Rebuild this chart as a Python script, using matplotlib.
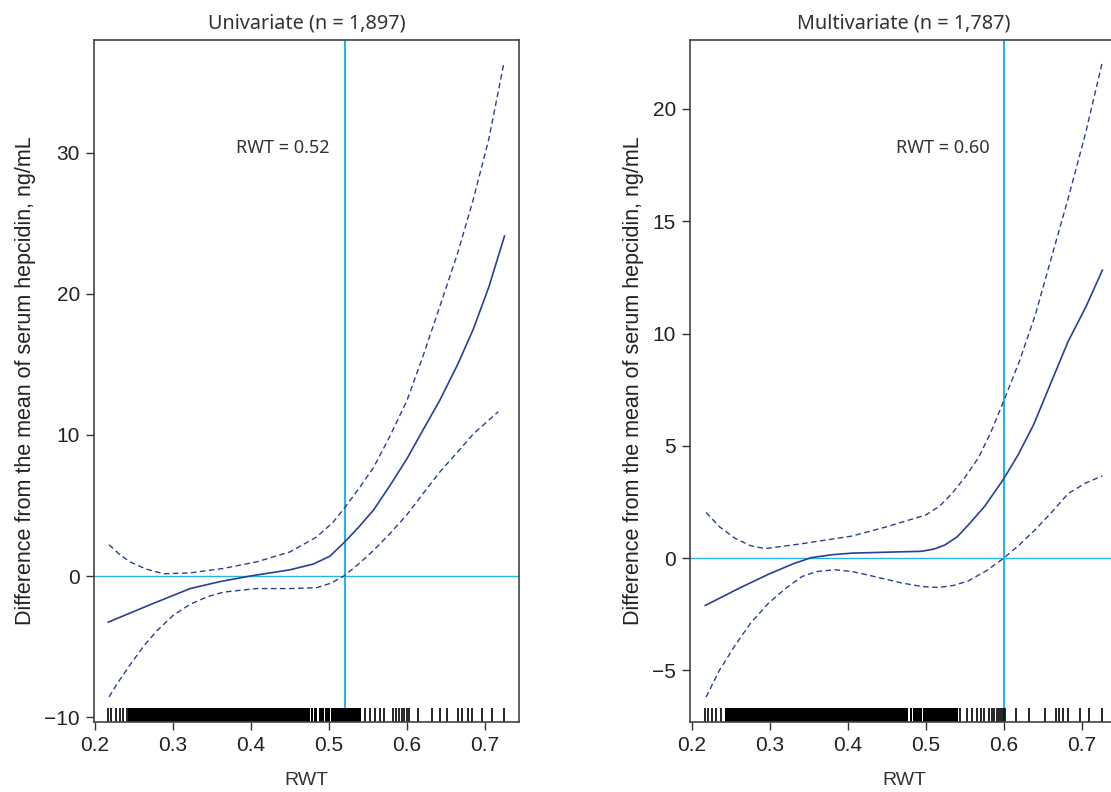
import numpy as np
import matplotlib
matplotlib.use("Agg")
import matplotlib.pyplot as plt

plt.rcParams['font.family'] = ['Liberation Sans', 'DejaVu Sans']

# univariate spline
uni_x = [0.217, 0.27, 0.322, 0.36, 0.399, 0.45, 0.48, 0.501, 0.519, 0.537, 0.557,
         0.578, 0.6, 0.62, 0.642, 0.665, 0.685, 0.705, 0.725]
uni_fit = [-3.27, -2.05, -0.89, -0.4, 0.0, 0.44, 0.85, 1.40, 2.35, 3.4, 4.67,
           6.4, 8.32, 10.3, 12.45, 15.0, 17.5, 20.5, 24.1]
uni_up_x = [0.218, 0.232, 0.245, 0.265, 0.288, 0.322, 0.365, 0.407, 0.45, 0.484, 0.505,
            0.519, 0.537, 0.557, 0.578, 0.6, 0.62, 0.642, 0.665, 0.685, 0.705, 0.724]
uni_up = [2.22, 1.5, 1.0, 0.5, 0.16, 0.22, 0.54, 1.0, 1.71, 2.76, 3.8,
          4.76, 6.1, 7.68, 9.9, 12.45, 15.5, 19.1, 22.9, 26.7, 31.0, 36.3]
uni_lo_x = [0.218, 0.23, 0.245, 0.262, 0.279, 0.3, 0.322, 0.345, 0.365, 0.407, 0.45, 0.484,
            0.503, 0.519, 0.537, 0.557, 0.578, 0.6, 0.62, 0.642, 0.665, 0.685, 0.717]
uni_lo = [-8.57, -7.5, -6.29, -5.0, -3.9, -2.8, -2.0, -1.45, -1.14, -0.89, -0.89, -0.83,
          -0.5, 0.0, 0.8, 1.81, 3.0, 4.35, 5.8, 7.37, 8.8, 10.07, 11.65]

# multivariate spline
mul_x = [0.217, 0.26, 0.298, 0.33, 0.353, 0.38, 0.405, 0.447, 0.494, 0.51, 0.524, 0.54,
         0.554, 0.575, 0.599, 0.618, 0.638, 0.66, 0.682, 0.705, 0.726]
mul_fit = [-2.11, -1.35, -0.72, -0.25, 0.02, 0.15, 0.22, 0.26, 0.30, 0.4, 0.58, 0.95,
           1.47, 2.3, 3.5, 4.6, 5.95, 7.8, 9.64, 11.2, 12.82]
mul_up_x = [0.218, 0.235, 0.255, 0.275, 0.294, 0.341, 0.405, 0.447, 0.499, 0.517, 0.533,
            0.55, 0.567, 0.583, 0.599, 0.62, 0.64, 0.66, 0.682, 0.705, 0.726]
mul_up = [2.03, 1.4, 0.88, 0.55, 0.42, 0.64, 0.98, 1.37, 1.91, 2.3, 2.87,
          3.6, 4.46, 5.6, 6.95, 8.8, 10.83, 13.3, 16.0, 19.0, 22.1]
mul_lo_x = [0.218, 0.235, 0.255, 0.275, 0.298, 0.32, 0.341, 0.36, 0.383, 0.405, 0.426, 0.469,
            0.495, 0.516, 0.535, 0.554, 0.578, 0.599, 0.62, 0.64, 0.66, 0.682, 0.705, 0.726]
mul_lo = [-6.19, -5.0, -3.9, -2.9, -2.01, -1.35, -0.82, -0.6, -0.52, -0.6, -0.76, -1.11,
          -1.27, -1.31, -1.22, -1.02, -0.55, -0.02, 0.6, 1.27, 2.0, 2.87, 3.35, 3.66]

# rug: dense stretches as ranges, sparse observations as single values
uni_rug_dense = [(0.2425, 0.4755), (0.4770, 0.4790), (0.4805, 0.4850), (0.4870, 0.4935),
                 (0.4955, 0.5015), (0.5030, 0.5410)]
uni_rug = [0.217, 0.221, 0.2265, 0.2316, 0.2363, 0.2406, 0.546, 0.553, 0.559, 0.565,
           0.570, 0.5825, 0.5859, 0.5893, 0.5932, 0.5962, 0.5996, 0.603, 0.6145, 0.6316,
           0.6423, 0.6509, 0.6658, 0.670, 0.6786, 0.683, 0.6957, 0.7085, 0.7250]
mul_rug_dense = [(0.2423, 0.4773), (0.4790, 0.4820), (0.4835, 0.4950), (0.4965, 0.5415)]
mul_rug = [0.2167, 0.221, 0.2252, 0.2308, 0.2368, 0.5436, 0.552, 0.5594, 0.565, 0.5705,
           0.5748, 0.581, 0.584, 0.5876, 0.591, 0.5936, 0.596, 0.599, 0.601, 0.615,
           0.6321, 0.6519, 0.6662, 0.6705, 0.676, 0.6816, 0.6975, 0.709, 0.7252]

titles = ['Univariate (n = 1,897)', 'Multivariate (n = 1,787)']
cutoffs = [0.52, 0.60]
xticks = [0.2, 0.3, 0.4, 0.5, 0.6, 0.7]
yticks = [[-10, 0, 10, 20, 30], [-5, 0, 5, 10, 15, 20]]

blue = '#2a3f95'
cyan = '#27b5e8'

fig = plt.figure(figsize=(11.11, 7.92), dpi=100)
ax1 = fig.add_axes([94 / 1111, 70 / 792, 425 / 1111, 682 / 792])
ax2 = fig.add_axes([690 / 1111, 70 / 792, 428 / 1111, 682 / 792])

panels = [
    (ax1, uni_x, uni_fit, uni_up_x, uni_up, uni_lo_x, uni_lo, uni_rug_dense, uni_rug,
     (0.1987, 0.7436), (-10.35, 38.0), 30.35),
    (ax2, mul_x, mul_fit, mul_up_x, mul_up, mul_lo_x, mul_lo, mul_rug_dense, mul_rug,
     (0.1974, 0.746), (-7.3, 23.07), 18.26),
]

for i, (ax, fx, fy, ux, uy, lx, ly, dense, rug, xl, yl, ann_y) in enumerate(panels):
    ax.axhline(0, color=cyan, lw=1.0, zorder=1)
    ax.axvline(cutoffs[i], color=cyan, lw=1.5, zorder=1)
    ax.plot(fx, fy, color=blue, lw=1.2, zorder=3)
    ax.plot(ux, uy, color=blue, lw=1.0, dashes=(4, 2.5), zorder=3)
    ax.plot(lx, ly, color=blue, lw=1.0, dashes=(4, 2.5), zorder=3)

    # rug along the bottom
    rug_h = 0.02
    for a, b in dense:
        ax.axvspan(a, b, 0, rug_h, color='black', lw=0, zorder=2)
    ax.vlines(rug, 0, rug_h, color='black', lw=1.2, transform=ax.get_xaxis_transform(), zorder=2)

    ax.text(cutoffs[i] - 0.019, ann_y, 'RWT = %.2f' % cutoffs[i], ha='right', va='center',
            fontsize=13, color='#333333', family=['Noto Sans', 'DejaVu Sans'])

    ax.set_xlim(*xl)
    ax.set_ylim(*yl)
    ax.set_xticks(xticks)
    ax.set_xticklabels(['%.1f' % v for v in xticks])
    ax.set_yticks(yticks[i])
    ax.tick_params(direction='out', length=6, width=1.0, labelsize=15, color='#333333',
                   labelcolor='#222222', pad=4)
    for s in ax.spines.values():
        s.set_color('#444444')
        s.set_linewidth(1.2)
    ax.set_title(titles[i], fontsize=14.3, color='#333333', pad=8,
                 family=['Noto Sans', 'DejaVu Sans'])
    ax.set_xlabel('RWT', fontsize=14, color='#333333', labelpad=12)
    ax.set_ylabel('Difference from the mean of serum hepcidin, ng/mL', fontsize=15.5,
                  color='#222222', labelpad=6)

fig.savefig('out.png', dpi=100)
